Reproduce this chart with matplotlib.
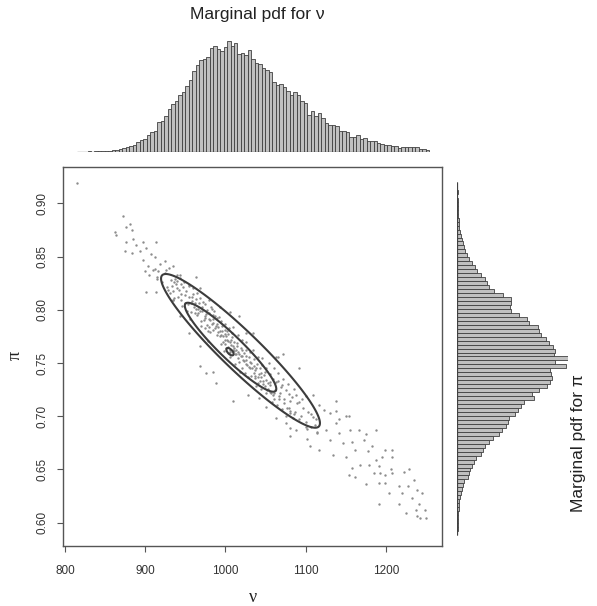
import numpy as np
import matplotlib
matplotlib.use("Agg")
import matplotlib.pyplot as plt

# ---- data ----
# top marginal histogram (nu), bin counts left -> right, bins span nu_lo..nu_hi
nu_lo, nu_hi = 815.0, 1254.0
nu_counts = [0, 0, 0, 1, 0, 1, 1, 1, 2, 2,
             3, 5, 8, 10, 12, 15, 20, 28, 34, 38, 50, 58, 62, 88, 92, 105, 128, 142,
             150, 168, 178, 195, 215, 240,
             257, 272, 275, 282, 310, 315, 305, 300, 312, 330, 315, 325, 290, 295, 288,
             302, 275, 265, 262, 250, 242, 238, 208, 198, 202, 192, 180, 170, 178, 168,
             150, 145, 110, 122,
             105, 115, 100, 85, 80, 80, 75, 60, 62, 58, 42, 42, 50, 38, 40, 30, 30, 30,
             24, 22, 18, 18, 15, 15, 10, 12, 12, 12, 12, 12, 6, 6, 4]

# right marginal histogram (pi), bin counts bottom -> top, bins span pi_lo..pi_hi
pi_lo, pi_hi = 0.5885, 0.920
pi_counts = [0, 1, 1, 2, 2, 3, 4, 6, 6, 8, 12, 14, 16, 20, 33, 36, 38, 43, 50, 56, 70,
             78, 83, 96, 106, 126, 133, 146,
             153, 156, 173, 183, 193, 200, 230, 226, 246, 270, 278, 286, 283, 278, 328,
             293, 333, 290, 293, 288, 276, 268, 253, 246, 243, 216, 210, 186, 163, 160,
             162, 162, 138, 110, 95, 88, 82, 70, 60, 52, 45, 35, 28, 22, 20, 18, 15, 12,
             8, 6, 5, 4, 3, 2, 2, 1, 1, 0, 1, 0, 0]

# posterior draws (nu, pi), estimated from the cloud
nu_pts = [815, 862, 863, 872, 876, 881, 883, 876, 885, 889, 875, 883, 893, 897, 901, 907,
          914, 912, 897, 903, 910, 900, 905, 915, 901, 914, 926, 934, 943, 963, 955, 968,
          980, 993, 1005, 1017, 1026, 1034, 1009, 934, 928, 943, 955, 968, 1065,
          968, 976, 984, 1009, 988, 1028, 1042, 1051, 1063, 1076, 1080, 1088, 1092, 1072,
          1063, 1100, 1109, 1117, 1123, 1130, 1138, 1150, 1138, 1125, 1114, 1102, 1105,
          1117, 1130, 1142, 1155, 1146, 1158, 1162, 1150, 1166, 1172, 1177, 1168, 1179,
          1158, 1154, 1162, 1175, 1185, 1187, 1195, 1199, 1187, 1191, 1193, 1199, 1206,
          1191, 1199, 1191, 1204, 1208, 1216, 1220, 1228, 1229, 1235, 1239, 1233, 1241,
          1245, 1249, 1250, 1237, 1225, 1216, 1239, 1243, 1208, 1134, 1175, 1183, 1208,
          1222, 1138, 1154, 1142, 1113, 1100, 1092, 1080, 1080,
          932, 935, 938, 941, 943, 945, 947, 949, 933, 939, 944, 948, 936, 942, 946, 931,
          940, 950, 934, 937,
          951, 953, 955, 957, 959, 961, 963, 965, 967, 969, 952, 954, 956, 958, 960, 962,
          964, 966, 968, 970, 957, 963,
          971, 973, 975, 977, 979, 981, 983, 985, 987, 989, 972, 974, 976, 978, 980, 982,
          984, 986, 988, 990, 975, 983, 978,
          991, 993, 995, 997, 999, 1001, 1003, 1005, 1007, 1009, 992, 994, 996, 998, 1000,
          1002, 1004, 1006, 1008, 1010, 995, 1003, 1006, 1004, 999,
          1011, 1013, 1015, 1017, 1019, 1021, 1023, 1025, 1027, 1029, 1012, 1014, 1016,
          1018, 1020, 1022, 1024, 1026, 1028, 1030, 1015, 1021, 1026,
          1031, 1033, 1035, 1037, 1039, 1041, 1043, 1045, 1047, 1049, 1032, 1034, 1036,
          1038, 1040, 1042, 1044, 1046, 1048, 1050, 1037, 1044,
          1051, 1053, 1055, 1057, 1059, 1061, 1063, 1065, 1067, 1069, 1052, 1054, 1056,
          1058, 1060, 1062, 1064, 1066, 1068, 1070,
          1071, 1073, 1075, 1077, 1079, 1081, 1083, 1085, 1087, 1089, 1072, 1076, 1080,
          1084, 1088, 1078,
          1091, 1094, 1097, 1100, 1103, 1106, 1109, 1112, 1095, 1101, 1107, 1114,
          912, 915, 918, 921, 924, 927, 929, 916, 925,
          962, 966, 971, 974, 977, 981, 984, 987, 990, 993, 996, 999, 1002, 1005, 1008,
          1011, 1014, 1017, 1020, 1023, 1026, 1029, 1032, 1035, 1038, 1041, 1044, 1047,
          1050, 1053, 1056, 1059,
          968, 979, 985, 991, 997, 1001, 1007, 1013, 1019, 1025, 1031, 1037, 1043, 1049,
          1055, 1061, 1067, 1073, 1079, 1085,
          958, 945, 940, 936, 1003, 1009, 1000, 1012]
pi_pts = [0.919, 0.873, 0.870, 0.888, 0.878, 0.881, 0.875, 0.864, 0.866, 0.861, 0.855,
          0.853, 0.855, 0.864, 0.858, 0.852, 0.864, 0.850, 0.847, 0.841, 0.837, 0.836,
          0.833, 0.831, 0.817, 0.817, 0.837, 0.841, 0.833, 0.831, 0.822, 0.820, 0.809,
          0.803, 0.798, 0.794, 0.778, 0.778, 0.784, 0.809, 0.819, 0.794, 0.778, 0.766,
          0.756,
          0.747, 0.741, 0.742, 0.714, 0.731, 0.720, 0.717, 0.709, 0.698, 0.694, 0.681,
          0.687, 0.745, 0.758, 0.756, 0.719, 0.720, 0.711, 0.706, 0.703, 0.705, 0.700,
          0.694, 0.687, 0.684, 0.679, 0.672, 0.668, 0.678, 0.684, 0.687, 0.675, 0.676,
          0.668, 0.662, 0.687, 0.678, 0.667, 0.654, 0.654, 0.651, 0.645, 0.643, 0.636,
          0.647, 0.659, 0.662, 0.668, 0.687, 0.653, 0.647, 0.645, 0.650, 0.637, 0.637,
          0.618, 0.628, 0.647, 0.634, 0.628, 0.634, 0.650, 0.640, 0.631, 0.623, 0.618,
          0.628, 0.612, 0.604, 0.612, 0.609, 0.618, 0.606, 0.604, 0.662, 0.664, 0.683,
          0.672, 0.668, 0.648, 0.714, 0.700, 0.697, 0.697, 0.690, 0.697, 0.705, 0.689,
          0.828, 0.818, 0.824, 0.812, 0.830, 0.815, 0.821, 0.806, 0.822, 0.833, 0.809,
          0.826, 0.811, 0.819, 0.804, 0.816, 0.827, 0.814, 0.809, 0.829,
          0.818, 0.805, 0.812, 0.798, 0.820, 0.803, 0.810, 0.795, 0.806, 0.789, 0.799,
          0.823, 0.791, 0.808, 0.815, 0.797, 0.816, 0.801, 0.811, 0.785, 0.806, 0.801,
          0.799, 0.790, 0.805, 0.786, 0.797, 0.779, 0.801, 0.788, 0.794, 0.776, 0.807,
          0.783, 0.796, 0.771, 0.791, 0.803, 0.781, 0.799, 0.785, 0.792, 0.792, 0.787,
          0.780,
          0.784, 0.775, 0.789, 0.770, 0.781, 0.764, 0.777, 0.760, 0.772, 0.766, 0.793,
          0.768, 0.780, 0.761, 0.787, 0.772, 0.783, 0.756, 0.778, 0.761, 0.776, 0.765,
          0.762, 0.759, 0.772,
          0.770, 0.758, 0.776, 0.751, 0.764, 0.745, 0.759, 0.770, 0.748, 0.756, 0.749,
          0.766, 0.760, 0.742, 0.772, 0.753, 0.741, 0.762, 0.737, 0.751, 0.755, 0.757,
          0.753,
          0.760, 0.745, 0.754, 0.736, 0.749, 0.731, 0.745, 0.755, 0.733, 0.742, 0.738,
          0.762, 0.747, 0.728, 0.756, 0.740, 0.726, 0.748, 0.739, 0.722, 0.743, 0.737,
          0.745, 0.731, 0.740, 0.722, 0.735, 0.716, 0.732, 0.741, 0.719, 0.727, 0.725,
          0.750, 0.732, 0.713, 0.745, 0.725, 0.711, 0.733, 0.722, 0.707,
          0.729, 0.716, 0.725, 0.708, 0.721, 0.703, 0.718, 0.726, 0.704, 0.712, 0.735,
          0.700, 0.714, 0.698, 0.720, 0.730,
          0.713, 0.700, 0.708, 0.695, 0.704, 0.690, 0.699, 0.692, 0.716, 0.688, 0.702,
          0.685,
          0.838, 0.829, 0.843, 0.826, 0.835, 0.821, 0.839, 0.836, 0.846,
          0.806, 0.797, 0.803, 0.794, 0.800, 0.790, 0.795, 0.783, 0.787, 0.780, 0.785,
          0.777, 0.780, 0.770, 0.774, 0.764, 0.769, 0.758, 0.762, 0.752, 0.757, 0.746,
          0.750, 0.741, 0.745, 0.737, 0.741, 0.730, 0.734, 0.726, 0.729, 0.720,
          0.799, 0.784, 0.791, 0.779, 0.775, 0.775, 0.767, 0.762, 0.757, 0.749, 0.745,
          0.738, 0.733, 0.728, 0.723, 0.722, 0.716, 0.712, 0.708, 0.702,
          0.812, 0.824, 0.820, 0.826, 0.771, 0.762, 0.768, 0.758]

# HPD contours: centre, half-extent in nu, half-extent in pi, correlation
cont_nu_c = [1018.7, 1006.3, 1005.6]
cont_pi_c = [0.7614, 0.7648, 0.7606]
cont_nu_h = [99.0, 57.0, 4.5]
cont_pi_h = [0.0722, 0.0418, 0.0035]
cont_rho = [-0.94, -0.935, -0.6]

nu_ticks = [800, 900, 1000, 1100, 1200]
pi_ticks = [0.60, 0.65, 0.70, 0.75, 0.80, 0.85, 0.90]

W, H = 597, 606


def box(l, t, r, b):
    return [l / W, 1 - b / H, (r - l) / W, (b - t) / H]


fig = plt.figure(figsize=(W / 100, H / 100), dpi=100)
plt.rcParams['font.family'] = ['Liberation Sans', 'DejaVu Sans']

xlim = (797.5, 1269.8)
ylim = (0.5781, 0.9341)
edge = '#555555'

# main scatter panel
ax = fig.add_axes(box(63, 167, 442, 546))
ax.scatter(nu_pts, pi_pts, s=3.0, c='#8c8c8c', linewidths=0)
gx, gy = np.meshgrid(np.linspace(840, 1200, 600), np.linspace(0.62, 0.90, 600))
for cn, cp, hn, hp, r in zip(cont_nu_c, cont_pi_c, cont_nu_h, cont_pi_h, cont_rho):
    u = (gx - cn) / hn
    v = (gy - cp) / hp
    z = (u * u - 2 * r * u * v + v * v) / (1 - r * r)
    ax.contour(gx, gy, z, levels=[1.0], colors='#3c3c3c', linewidths=1.5)
ax.set_xlim(*xlim)
ax.set_ylim(*ylim)
ax.set_xticks(nu_ticks)
ax.set_yticks(pi_ticks)
ax.set_yticklabels(['%.2f' % t for t in pi_ticks], rotation=90, va='center')
ax.tick_params(direction='out', length=4.5, width=0.8, colors=edge,
               labelcolor='#333333', labelsize=8.5)
ax.tick_params(axis='x', pad=9)
ax.tick_params(axis='y', pad=6)
for s in ax.spines.values():
    s.set_color(edge)
    s.set_linewidth(1.0)

# top marginal
axt = fig.add_axes(box(63, 41, 442, 151.5))
nb = len(nu_counts)
wn = (nu_hi - nu_lo) / nb
nu_left = [nu_lo + i * wn for i in range(nb)]
axt.bar(nu_left, nu_counts, width=wn, align='edge', color='#c0c0c0',
        edgecolor='#404040', linewidth=0.6)
axt.hlines(0, nu_lo, nu_hi, color='#404040', linewidth=0.9)
axt.set_xlim(*xlim)
axt.set_ylim(0, max(nu_counts))
axt.axis('off')

# right marginal
axr = fig.add_axes(box(457.3, 167, 568, 546))
npb = len(pi_counts)
wp = (pi_hi - pi_lo) / npb
pi_bottom = [pi_lo + i * wp for i in range(npb)]
axr.barh(pi_bottom, pi_counts, height=wp, align='edge', color='#c0c0c0',
         edgecolor='#404040', linewidth=0.6)
axr.vlines(0, pi_lo, pi_hi, color='#404040', linewidth=0.9)
axr.set_ylim(*ylim)
axr.set_xlim(0, max(pi_counts))
axr.axis('off')

# titles and axis labels
fig.text(257 / W, 1 - 15 / H, 'Marginal pdf for ν', ha='center', va='center',
         fontsize=12.5, color='#222222')
fig.text(578 / W, 1 - 443 / H, 'Marginal pdf for π', ha='center', va='center',
         rotation=90, fontsize=12.5, color='#222222')
fig.text(253 / W, 1 - 597 / H, 'ν', ha='center', va='center', fontsize=13,
         family=['Liberation Serif', 'DejaVu Serif'], color='#222222')
fig.text(15 / W, 1 - 355 / H, 'π', ha='center', va='center', rotation=90,
         fontsize=13, family=['Liberation Serif', 'DejaVu Serif'], color='#222222')

fig.savefig('out.png', dpi=100)
